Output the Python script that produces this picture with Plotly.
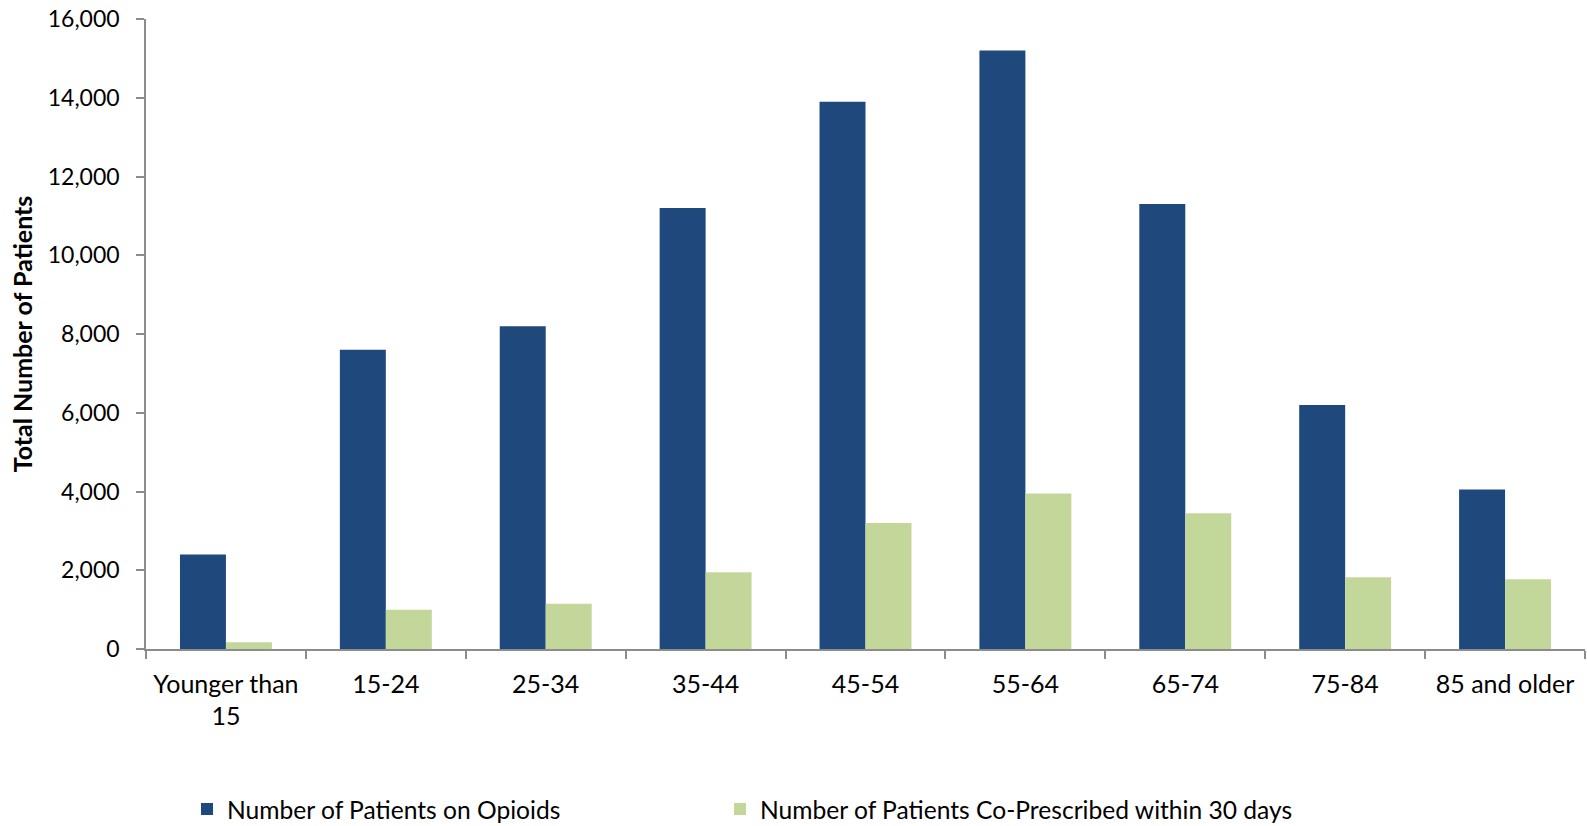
import plotly.graph_objects as go

# Age groups on the category axis
age_groups = ["Younger than<br>15", "15-24", "25-34", "35-44", "45-54",
              "55-64", "65-74", "75-84", "85 and older"]

# Patient counts per age group
patients_on_opioids = [2400, 7600, 8200, 11200, 13900, 15200, 11300, 6200, 4050]
co_prescribed_30d = [170, 1000, 1150, 1950, 3200, 3950, 3450, 1820, 1770]

y_ticks = [0, 2000, 4000, 6000, 8000, 10000, 12000, 14000, 16000]

BLUE = "#1F497D"
GREEN = "#C4D79B"
AXIS_GREY = "#8C8C8C"
FONT = "Lato, Open Sans, sans-serif"

fig = go.Figure()
fig.add_trace(go.Bar(
    x=age_groups, y=patients_on_opioids,
    name="Number of Patients on Opioids",
    marker=dict(color=BLUE, line=dict(width=0)),
    legend="legend",
))
fig.add_trace(go.Bar(
    x=age_groups, y=co_prescribed_30d,
    name="Number of Patients Co-Prescribed within 30 days",
    marker=dict(color=GREEN, line=dict(width=0)),
    legend="legend2",
))

legend_common = dict(
    orientation="h",
    xref="container", yref="container",
    y=0.0205, yanchor="middle", xanchor="left",
    font=dict(family=FONT, size=24.6, color="#000000"),
    bgcolor="rgba(0,0,0,0)",
)

fig.update_layout(
    width=1587, height=826,
    margin=dict(l=146, r=2, t=19, b=177, autoexpand=False),
    paper_bgcolor="white", plot_bgcolor="white",
    barmode="group", bargap=0.425, bargroupgap=0,
    font=dict(family=FONT, size=24, color="#000000"),
    showlegend=True,
    legend=dict(legend_common, x=187 / 1587),
    legend2=dict(legend_common, x=720 / 1587),
    xaxis=dict(
        type="category",
        showline=True, linecolor=AXIS_GREY, linewidth=1.5,
        ticks="outside", tickson="boundaries", ticklen=8,
        tickcolor=AXIS_GREY, tickwidth=1.5,
        showgrid=False, zeroline=False,
        tickfont=dict(family=FONT, size=25),
        ticklabelstandoff=12,
    ),
    yaxis=dict(
        range=[0, 16000],
        tickvals=y_ticks, tickformat=",d",
        showline=True, linecolor=AXIS_GREY, linewidth=1.5,
        ticks="outside", ticklen=8, tickcolor=AXIS_GREY, tickwidth=1.5,
        showgrid=False, zeroline=False,
        tickfont=dict(family=FONT, size=23),
        ticklabelstandoff=12,
        title=dict(text="<b>Total Number of Patients</b>",
                   font=dict(family=FONT, size=25), standoff=8),
    ),
)

fig.write_html("out.html")
